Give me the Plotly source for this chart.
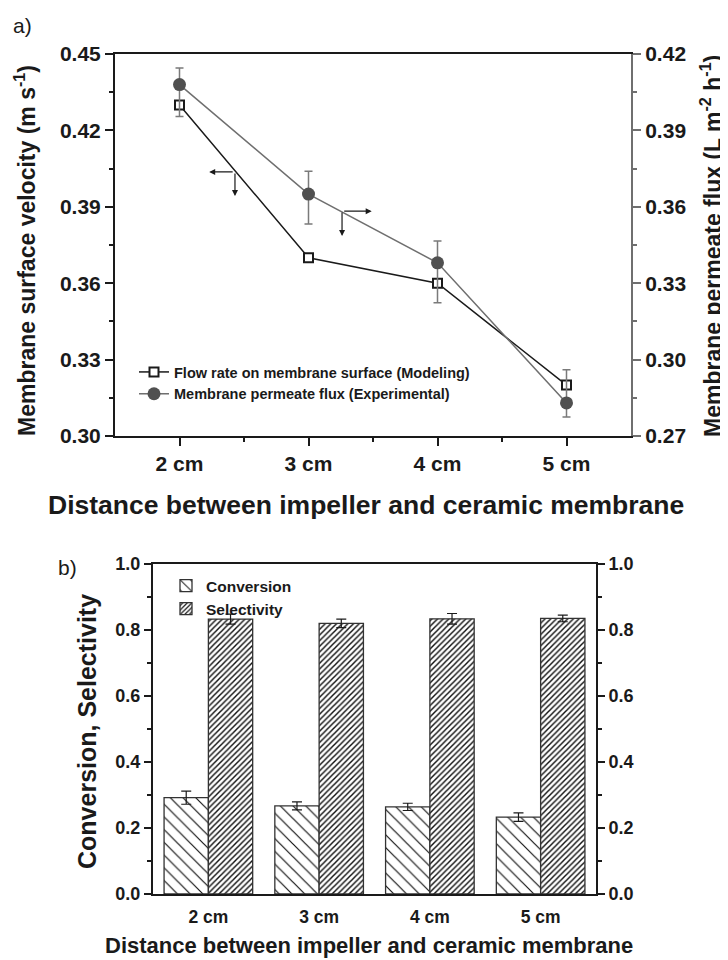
import plotly.graph_objects as go

# ---------------- data ----------------
distance_cm = [2, 3, 4, 5]
distance_labels = ["2 cm", "3 cm", "4 cm", "5 cm"]

# (a) modeling: membrane surface velocity (m/s), left axis
velocity_model = [0.430, 0.370, 0.360, 0.320]
# (a) experimental: permeate flux (L m-2 h-1), right axis
flux_exp = [0.408, 0.365, 0.338, 0.283]
flux_err_plus = [0.0065, 0.009, 0.0086, 0.013]
flux_err_minus = [0.0125, 0.0118, 0.0157, 0.0055]

# (b) conversion & selectivity
conversion = [0.292, 0.267, 0.264, 0.233]
conversion_err = [0.020, 0.012, 0.011, 0.013]
selectivity = [0.833, 0.820, 0.834, 0.835]
selectivity_err = [0.015, 0.013, 0.016, 0.010]

FONT = "Liberation Sans, Arial, sans-serif"
BLACK = "#1a1a1a"
GREY = "#6f6f6f"

# page body has an 8px margin: figure is 720x952 drawn at (8, 8)
W, H, OFF = 720, 952, 8


def px(X):
    return (X - OFF) / W


def py(Y):
    return 1 - (Y - OFF) / H


fig = go.Figure()

# ---------------- panel (a) ----------------
fig.add_trace(go.Scatter(
    x=distance_cm, y=flux_exp, name="Membrane permeate flux (Experimental)",
    mode="lines+markers", xaxis="x", yaxis="y2", legend="legend",
    line=dict(color=GREY, width=1.5),
    marker=dict(symbol="circle", size=13, color="#505050", line=dict(width=0)),
    error_y=dict(type="data", array=flux_err_plus, arrayminus=flux_err_minus,
                 color="#7a7a7a", thickness=1.5, width=4),
))
fig.add_trace(go.Scatter(
    x=distance_cm, y=velocity_model, name="Flow rate on membrane surface (Modeling)",
    mode="lines+markers", xaxis="x", yaxis="y", legend="legend",
    line=dict(color=BLACK, width=1.5),
    marker=dict(symbol="square", size=9, color="white", line=dict(color=BLACK, width=2)),
))

# ---------------- panel (b) ----------------
fig.add_trace(go.Bar(
    x=distance_labels, y=conversion, name="Conversion",
    xaxis="x2", yaxis="y3", legend="legend2",
    marker=dict(color="white", line=dict(color="#333333", width=1.3),
                pattern=dict(shape="\\", fgcolor="#111111", bgcolor="white",
                             size=9, solidity=0.13)),
    error_y=dict(type="data", array=conversion_err, color=BLACK, thickness=1.2, width=5),
))
fig.add_trace(go.Bar(
    x=distance_labels, y=selectivity, name="Selectivity",
    xaxis="x2", yaxis="y3", legend="legend2",
    marker=dict(color="white", line=dict(color="#333333", width=1.3),
                pattern=dict(shape="/", fgcolor="#111111", bgcolor="white",
                             size=4, solidity=0.36)),
    error_y=dict(type="data", array=selectivity_err, color=BLACK, thickness=1.2, width=5),
))
# invisible trace to anchor the right axis of panel (b)
fig.add_trace(go.Scatter(x=distance_labels, y=selectivity, xaxis="x2", yaxis="y4",
                         mode="markers", marker=dict(opacity=0), showlegend=False,
                         hoverinfo="skip"))

tickfont_a = dict(family=FONT, size=21, color=BLACK, weight="bold")
tickfont_b = dict(family=FONT, size=18, color=BLACK, weight="bold")
xtickfont_b = dict(family=FONT, size=17.5, color=BLACK, weight="bold")

common_axis = dict(automargin=False, showgrid=False, zeroline=False)

fig.update_layout(
    template="none",
    width=W, height=H,
    margin=dict(l=0, r=0, t=0, b=0, pad=0, autoexpand=False),
    paper_bgcolor="white", plot_bgcolor="white",
    barmode="group", bargap=0.2, bargroupgap=0,
    font=dict(family=FONT, color=BLACK),
    xaxis=dict(domain=[px(115), px(631)], anchor="y", range=[1.5, 5.5],
               tickvals=distance_cm, ticktext=distance_labels,
               ticks="outside", ticklen=8, tickwidth=1.5, tickcolor=BLACK,
               minor=dict(ticks="outside", ticklen=4, tickwidth=1.5, tickcolor=BLACK,
                          tickvals=[2.5, 3.5, 4.5]),
               showline=True, linecolor=BLACK, linewidth=2, mirror=True,
               tickfont=tickfont_a, **common_axis),
    yaxis=dict(domain=[py(436), py(54)], anchor="x", range=[0.30, 0.45],
               tickvals=[0.30, 0.33, 0.36, 0.39, 0.42, 0.45], tickformat=".2f",
               ticks="outside", ticklen=8, tickwidth=1.5, tickcolor=BLACK,
               minor=dict(ticks="outside", ticklen=4, tickwidth=1.5, tickcolor=BLACK,
                          tickvals=[0.315, 0.345, 0.375, 0.405, 0.435]),
               showline=True, linecolor=BLACK, linewidth=2,
               tickfont=tickfont_a, **common_axis),
    yaxis2=dict(overlaying="y", side="right", anchor="x", range=[0.27, 0.42],
                tickvals=[0.27, 0.30, 0.33, 0.36, 0.39, 0.42], tickformat=".2f",
                ticks="outside", ticklen=8, tickwidth=1.5, tickcolor=GREY,
                minor=dict(ticks="outside", ticklen=4, tickwidth=1.5, tickcolor=GREY,
                           tickvals=[0.285, 0.315, 0.345, 0.375, 0.405]),
                showline=True, linecolor=GREY, linewidth=2,
                tickfont=tickfont_a, **common_axis),
    xaxis2=dict(domain=[px(153), px(596)], anchor="y3", type="category",
                ticks="", showline=True, linecolor=BLACK, linewidth=2, mirror=True,
                ticklabelstandoff=6,
                tickfont=xtickfont_b, **common_axis),
    yaxis3=dict(domain=[py(894), py(564)], anchor="x2", range=[0, 1.0],
                dtick=0.2, tickformat=".1f",
                ticks="outside", ticklen=7, tickwidth=1.5, tickcolor=BLACK,
                minor=dict(ticks="outside", ticklen=4, tickwidth=1.5, tickcolor=BLACK,
                           dtick=0.1),
                showline=True, linecolor=BLACK, linewidth=2,
                tickfont=tickfont_b, **common_axis),
    yaxis4=dict(overlaying="y3", side="right", anchor="x2", range=[0, 1.0],
                dtick=0.2, tickformat=".1f",
                ticks="outside", ticklen=7, tickwidth=1.5, tickcolor=BLACK,
                minor=dict(ticks="outside", ticklen=4, tickwidth=1.5, tickcolor=BLACK,
                           dtick=0.1),
                showline=True, linecolor=BLACK, linewidth=2,
                tickfont=tickfont_b, **common_axis),
    legend=dict(x=px(134), y=py(356), xanchor="left", yanchor="top",
                bgcolor="rgba(0,0,0,0)", borderwidth=0, tracegroupgap=0,
                traceorder="reversed",
                font=dict(family=FONT, size=14.5, color=BLACK, weight="bold"),
                itemwidth=30),
    legend2=dict(x=px(166), y=py(569), xanchor="left", yanchor="top",
                 bgcolor="rgba(0,0,0,0)", borderwidth=0, tracegroupgap=0,
                 traceorder="normal",
                 font=dict(family=FONT, size=15.5, color=BLACK, weight="bold"),
                 itemwidth=30),
)

annotations = [
    # panel labels
    dict(text="a)", x=px(11), y=py(25), xref="paper", yref="paper", showarrow=False,
         xanchor="left", yanchor="middle", font=dict(family=FONT, size=21, color=BLACK)),
    dict(text="b)", x=px(56), y=py(567), xref="paper", yref="paper", showarrow=False,
         xanchor="left", yanchor="middle", font=dict(family=FONT, size=21, color=BLACK)),
    # axis titles panel (a)
    dict(text="Membrane surface velocity (m s<sup>-1</sup>)", x=px(25), y=py(251),
         xref="paper", yref="paper", showarrow=False, textangle=-90,
         xanchor="center", yanchor="middle",
         font=dict(family=FONT, size=23, color=BLACK, weight="bold")),
    dict(text="Membrane permeate flux (L m<sup>-2</sup> h<sup>-1</sup>)", x=1.0,
         y=py(246), xref="paper", yref="paper", showarrow=False, textangle=-90,
         xanchor="right", yanchor="middle",
         font=dict(family=FONT, size=23, color=BLACK, weight="bold")),
    dict(text="Distance between impeller and ceramic membrane", x=px(366), y=py(505),
         xref="paper", yref="paper", showarrow=False, xanchor="center", yanchor="middle",
         font=dict(family=FONT, size=26.5, color=BLACK, weight="bold")),
    # axis titles panel (b)
    dict(text="Conversion, Selectivity", x=px(87), y=py(732),
         xref="paper", yref="paper", showarrow=False, textangle=-90,
         xanchor="center", yanchor="middle",
         font=dict(family=FONT, size=25, color=BLACK, weight="bold")),
    dict(text="Distance between impeller and ceramic membrane", x=px(369), y=0,
         xref="paper", yref="paper", showarrow=False, xanchor="center", yanchor="bottom",
         font=dict(family=FONT, size=22, color=BLACK, weight="bold")),
]

# direction arrows (which axis each curve belongs to)
arrow_style = dict(showarrow=True, text="", arrowhead=2, arrowsize=1, arrowwidth=1.2,
                   arrowcolor=BLACK, xref="x", yref="y", axref="pixel", ayref="pixel")
annotations += [
    dict(x=2.23, y=0.4037, ax=25, ay=0, **arrow_style),
    dict(x=2.43, y=0.3942, ax=0, ay=-24, **arrow_style),
    dict(x=3.49, y=0.3883, ax=-29, ay=0, **arrow_style),
    dict(x=3.26, y=0.3785, ax=0, ay=-25, **arrow_style),
]
fig.update_layout(annotations=annotations)

fig.write_html("out.html")
